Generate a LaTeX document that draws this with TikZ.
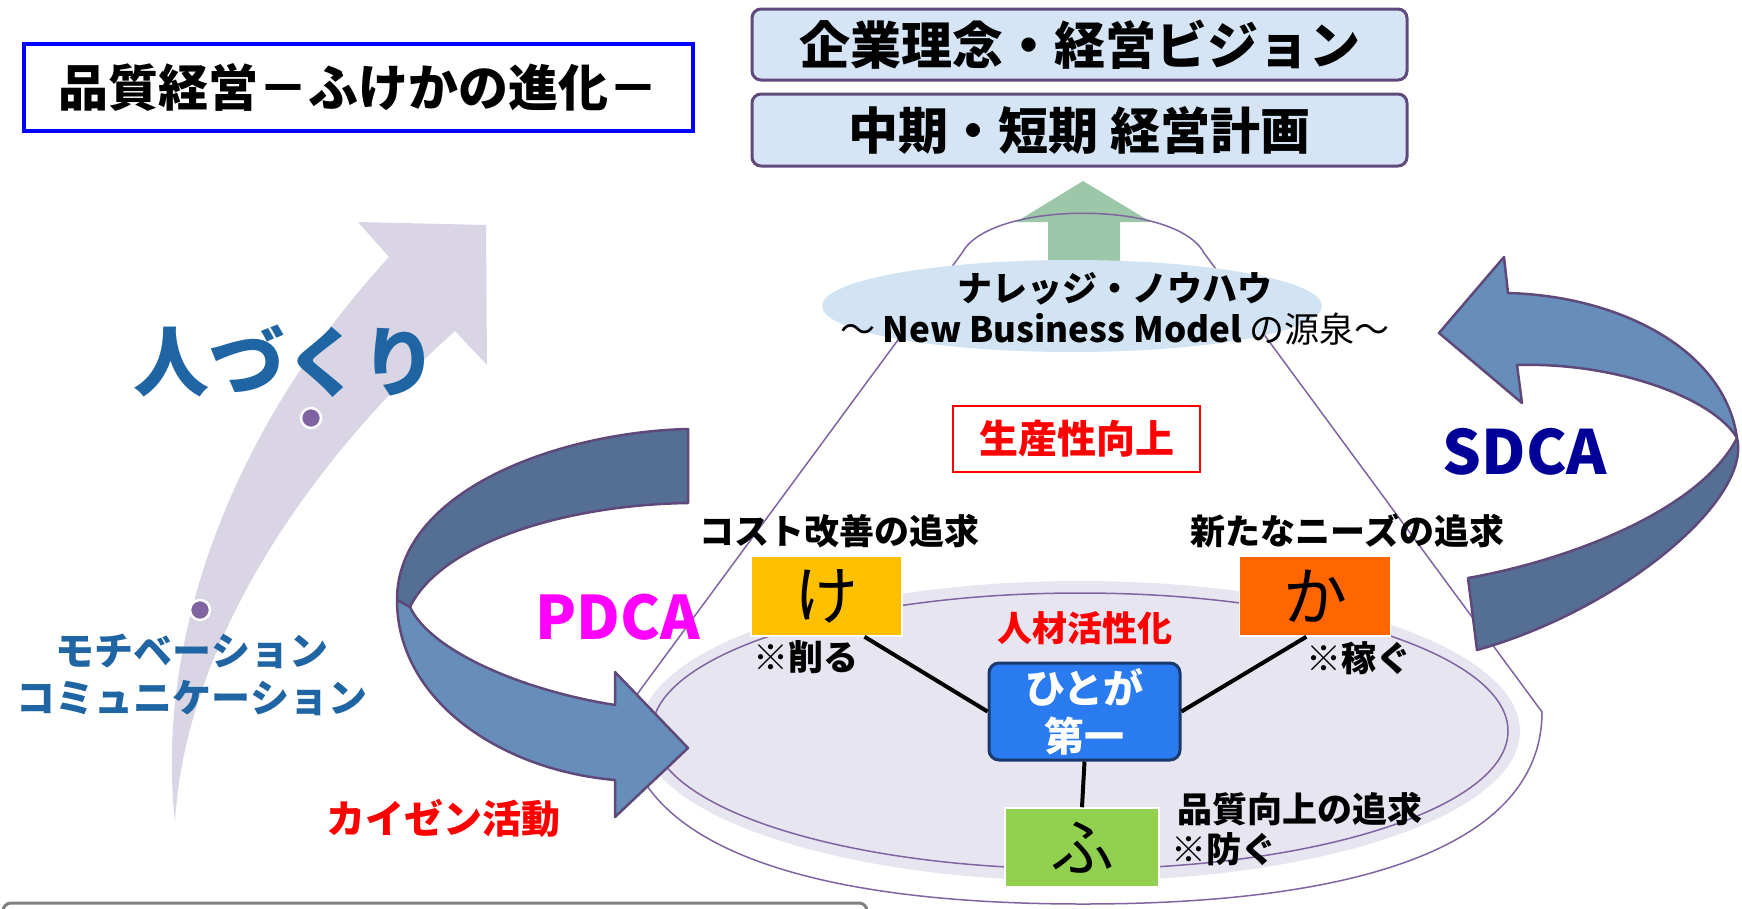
\documentclass[tikz,border=0pt]{standalone}
\usepackage{fontspec}
\setmainfont{Noto Sans CJK JP}
\usetikzlibrary{calc}
\definecolor{titleblue}{HTML}{0000FF}
\definecolor{planfill}{HTML}{D5E5F5}
\definecolor{planline}{HTML}{604A7B}
\definecolor{upgreen}{HTML}{9CC7A9}
\definecolor{conepurple}{HTML}{8064A2}
\definecolor{knowblue}{HTML}{D2E4F4}
\definecolor{lavfill}{HTML}{E7E5F0}
\definecolor{growth}{HTML}{D9D5E5}
\definecolor{dotpurple}{HTML}{8064A2}
\definecolor{peopleblue}{HTML}{1F65A3}
\definecolor{banddark}{HTML}{546F93}
\definecolor{bandlight}{HTML}{678DBA}
\definecolor{bandline}{HTML}{5F497A}
\definecolor{pdcamag}{HTML}{FF00FF}
\definecolor{sdcanavy}{HTML}{000099}
\definecolor{kecol}{HTML}{FFC000}
\definecolor{kacol}{HTML}{FF6600}
\definecolor{fucol}{HTML}{92D050}
\definecolor{hitofill}{HTML}{2A7AF0}
\definecolor{hitoline}{HTML}{1A3A6E}

\begin{document}
\begin{tikzpicture}[x=1pt,y=1pt,
     txt/.style={inner sep=0pt, font=\fontsize{35}{42}\selectfont\bfseries},
     kana/.style={minimum width=151pt, minimum height=80pt, draw=white, line width=1.5pt, font=\fontsize{64}{70}\selectfont},
     plan/.style={draw=planline, fill=planfill, line width=3pt, rounded corners=9pt, minimum width=655pt, minimum height=71pt, font=\fontsize{50}{60}\selectfont\bfseries},
     band/.style={draw=bandline, line width=2.5pt, line join=round},
     link/.style={line width=4pt}]
     \useasboundingbox (0,0) rectangle (1742,-908);
     \fill[growth] (389,-257) .. controls (230,-430) and (155,-640) .. (175,-822) .. controls (185,-650) and (300,-470) .. (455,-331) -- (487,-365) -- (486,-225) -- (358,-222) -- cycle;
     \filldraw[fill=dotpurple, draw=white, line width=2.5pt] (311,-418) circle (10);
     \filldraw[fill=dotpurple, draw=white, line width=2.5pt] (200,-610) circle (10);
     \node[txt, text=peopleblue, font=\fontsize{76}{80}\selectfont\bfseries] (hitozukuri) at (285,-361) {人づくり};
     \node[txt, text=peopleblue, align=center, font=\fontsize{39}{47}\selectfont\bfseries] (comm) at (192,-675) {モチベーション\\コミュニケーション};
     \fill[lavfill] (1080,-731) ellipse [x radius=440, y radius=150];
     \draw[conepurple, line width=1.5pt] (1080,-731) ellipse [x radius=428, y radius=138];
     \fill[upgreen] (1048,-268) -- (1048,-222) -- (1016,-222) -- (1083,-181) -- (1151,-222) -- (1120,-222) -- (1120,-268) -- cycle;
     \draw[conepurple, line width=1.5pt] (962,-253) -- (624,-712) .. controls (624,-837) and (785,-904) .. (1083,-904) .. controls (1381,-904) and (1542,-837) .. (1542,-712) -- (1204,-253) .. controls (1176,-200) and (990,-200) .. (962,-253) -- cycle;
     \fill[knowblue] (1072,-306) ellipse [x radius=250, y radius=46];
     \node[txt, align=center, font=\fontsize{35}{41}\selectfont] (know) at (1115,-309) {\textbf{ナレッジ・ノウハウ}\\～ \textbf{New Business Model} の源泉～};
     \filldraw[band, fill=banddark] (688,-429) .. controls (560,-432) and (397,-490) .. (397,-600) -- (410,-607) .. controls (440,-545) and (560,-505) .. (688,-503) -- cycle;
     \filldraw[band, fill=bandlight] (397,-600) .. controls (397,-700) and (500,-770) .. (615,-780) -- (615,-817) -- (688,-748) -- (615,-672) -- (615,-705) .. controls (520,-690) and (430,-650) .. (410,-607) -- cycle;
     \filldraw[band, fill=bandlight] (1508,-293) .. controls (1620,-296) and (1725,-350) .. (1737,-438) .. controls (1715,-400) and (1620,-362) .. (1517,-365) -- (1522,-403) -- (1439,-333) -- (1504,-257) -- cycle;
     \filldraw[band, fill=banddark] (1737,-438) .. controls (1752,-500) and (1620,-610) .. (1477,-650) -- (1468,-578) .. controls (1570,-560) and (1700,-510) .. (1737,-438) -- cycle;
     \node[txt, text=pdcamag, font=\fontsize{60}{60}\selectfont\bfseries] (pdca) at (618,-617) {PDCA};
     \node[txt, text=sdcanavy, font=\fontsize{61}{61}\selectfont\bfseries] (sdca) at (1525,-452) {SDCA};
     \node[txt, text=red, font=\fontsize{39}{45}\selectfont\bfseries] (kaizen) at (443,-818) {カイゼン活動};
     \node[draw=red, line width=2pt, minimum width=247pt, minimum height=66pt, text=red, font=\fontsize{39}{45}\selectfont\bfseries] (seisan) at (1076.5,-439) {生産性向上};
     \node[kana, fill=kecol] (ke) at (826.5,-596) {け};
     \node[kana, fill=kacol] (ka) at (1315,-596) {か};
     \node[kana, fill=fucol, minimum width=154pt, minimum height=79pt] (fu) at (1082,-847.5) {ふ};
     \node[draw=hitoline, fill=hitofill, line width=3pt, rounded corners=10pt, minimum width=191pt, minimum height=97pt, text=white, align=center, font=\fontsize{40}{48}\selectfont\bfseries] (hito) at (1084.5,-711.5) {ひとが\\第一};
     \draw[link] (ke.-47.6) -- (hito.west);
     \draw[link] (ka.-102.7) -- (hito.east);
     \draw[link] (hito.south) -- (fu.north);
     \node[txt] (costlbl) at (839.5,-531) {コスト改善の追求};
     \node[txt] (kezuru) at (806,-657) {※削る};
     \node[txt] (needlbl) at (1347.5,-531) {新たなニーズの追求};
     \node[txt] (kasegu) at (1359,-658) {※稼ぐ};
     \node[txt] (qualitylbl) at (1300,-809) {品質向上の追求};
     \node[txt] (fusegu) at (1224,-849) {※防ぐ};
     \node[txt, text=red] (jinzai) at (1085,-628) {人材活性化};
     \node[draw=titleblue, line width=3.5pt, minimum width=669pt, minimum height=87pt, font=\fontsize{50}{60}\selectfont\bfseries] (title) at (358.5,-87.5) {品質経営－ふけかの進化－};
     \node[plan, font=\fontsize{51}{60}\selectfont\bfseries] (vision) at (1079.5,-44.5) {企業理念・経営ビジョン};
     \node[plan, minimum height=72pt] (midplan) at (1079.5,-130) {中期・短期 経営計画};
     \draw[gray, line width=3pt, rounded corners=8pt] (3,-935) -- (3,-903) -- (867,-903) -- (867,-935);
\end{tikzpicture}
\end{document}
